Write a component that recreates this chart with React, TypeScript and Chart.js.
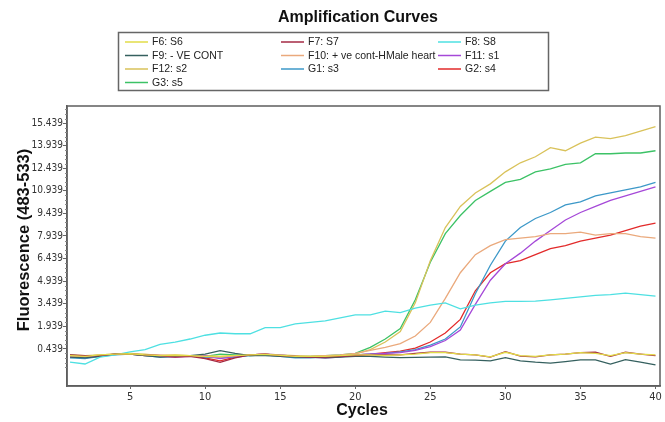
import React, { useEffect, useRef } from 'react';
import { Chart, registerables } from 'chart.js';

Chart.register(...registerables);

const TITLE = 'Amplification Curves';
const X_TITLE = 'Cycles';
const Y_TITLE = 'Fluorescence (483-533)';

const cycles = [1, 2, 3, 4, 5, 6, 7, 8, 9, 10, 11, 12, 13, 14, 15, 16, 17, 18, 19, 20, 21, 22, 23, 24, 25, 26, 27, 28, 29, 30, 31, 32, 33, 34, 35, 36, 37, 38, 39, 40];

const xTicks = [5, 10, 15, 20, 25, 30, 35, 40];
const yTicks = [0.439, 1.939, 3.439, 4.939, 6.439, 7.939, 9.439, 10.939, 12.439, 13.939, 15.439];

const seriesNames = [
  'F6: S6', 'F7: S7', 'F8: S8',
  'F9: - VE CONT', 'F10: + ve cont-HMale heart', 'F11: s1',
  'F12: s2', 'G1: s3', 'G2: s4',
  'G3: s5',
];

const seriesColors = [
  '#e2dc48', '#a42a44', '#4ee0e2',
  '#35605f', '#eaa97c', '#a548d8',
  '#d9c25a', '#3c98c8', '#e22a2a',
  '#3cc266',
];

const f6 = [0.0, -0.05, 0.05, 0.1, 0.12, 0.05, 0.0, 0.02, 0.0, -0.05, -0.05, 0.0, 0.05, 0.08, 0.02, -0.05, -0.05, -0.05, 0.0, 0.05, 0.05, 0.0, 0.05, 0.1, 0.2, 0.2, 0.1, 0.05, -0.08, 0.22, 0.0, -0.05, 0.05, 0.1, 0.2, 0.15, 0.0, 0.2, 0.1, 0.05];
const f7 = [0.05, 0.0, 0.0, 0.1, 0.1, 0.05, 0.0, -0.1, -0.05, -0.2, -0.45, -0.15, 0.05, 0.1, 0.0, -0.05, -0.1, -0.1, -0.05, 0.0, 0.05, 0.05, 0.05, 0.15, 0.22, 0.22, 0.1, 0.05, -0.1, 0.26, -0.03, -0.08, 0.05, 0.1, 0.2, 0.22, -0.05, 0.22, 0.1, 0.0];
const f8 = [-0.43, -0.56, -0.1, 0.05, 0.25, 0.4, 0.75, 0.9, 1.1, 1.35, 1.5, 1.45, 1.45, 1.85, 1.85, 2.1, 2.2, 2.3, 2.5, 2.7, 2.7, 2.95, 2.85, 3.15, 3.35, 3.5, 3.1, 3.35, 3.5, 3.6, 3.6, 3.62, 3.7, 3.8, 3.9, 4.0, 4.05, 4.15, 4.05, 3.95];
const f9 = [-0.1, -0.15, -0.05, 0.1, 0.1, 0.0, -0.1, -0.05, 0.0, 0.1, 0.33, 0.15, 0.0, 0.0, -0.05, -0.1, -0.1, -0.15, -0.1, -0.05, -0.05, -0.1, -0.14, -0.12, -0.1, -0.08, -0.29, -0.3, -0.35, -0.14, -0.35, -0.44, -0.5, -0.4, -0.29, -0.29, -0.56, -0.27, -0.44, -0.62];
const f10 = [0.0, -0.05, 0.05, 0.1, 0.1, 0.05, 0.05, 0.0, -0.05, -0.05, -0.1, 0.0, 0.05, 0.1, 0.0, -0.05, -0.05, 0.0, 0.05, 0.15, 0.35, 0.55, 0.8, 1.3, 2.2, 3.8, 5.5, 6.7, 7.3, 7.7, 7.8, 7.9, 8.1, 8.1, 8.2, 8.0, 8.1, 8.1, 7.9, 7.8];
const f11 = [-0.1, -0.1, 0.0, 0.1, 0.1, 0.05, -0.05, -0.1, -0.05, 0.0, -0.2, -0.05, 0.05, 0.1, 0.05, -0.05, -0.1, -0.15, -0.1, 0.05, 0.1, 0.15, 0.2, 0.35, 0.6, 1.0, 1.7, 3.4, 5.0, 6.1, 6.8, 7.6, 8.3, 9.0, 9.5, 9.9, 10.3, 10.6, 10.9, 11.2];
const f12 = [0.05, 0.0, 0.05, 0.1, 0.15, 0.1, 0.0, 0.05, 0.0, 0.0, -0.05, 0.0, 0.05, 0.1, 0.05, 0.0, -0.05, 0.0, 0.0, 0.1, 0.4, 0.9, 1.6, 3.5, 6.3, 8.5, 9.9, 10.8, 11.4, 12.2, 12.8, 13.2, 13.8, 13.6, 14.1, 14.5, 14.4, 14.6, 14.9, 15.2];
const g1 = [-0.15, -0.2, -0.05, 0.05, 0.1, 0.0, -0.1, -0.05, -0.05, -0.1, -0.15, -0.1, 0.0, 0.05, -0.05, -0.15, -0.15, -0.1, -0.05, 0.05, 0.1, 0.15, 0.25, 0.4, 0.7, 1.1, 1.9, 4.1, 6.0, 7.6, 8.5, 9.1, 9.5, 10.0, 10.2, 10.6, 10.8, 11.0, 11.2, 11.5];
const g2 = [0.0, -0.05, 0.0, 0.1, 0.1, 0.0, -0.05, -0.05, 0.0, -0.15, -0.35, -0.1, 0.05, 0.1, 0.0, -0.05, -0.1, -0.1, -0.05, 0.05, 0.1, 0.2, 0.3, 0.5, 0.9, 1.5, 2.4, 4.3, 5.5, 6.1, 6.3, 6.7, 7.1, 7.3, 7.6, 7.8, 8.0, 8.3, 8.6, 8.8];
const g3 = [0.05, -0.05, 0.0, 0.1, 0.1, 0.05, 0.0, -0.05, -0.05, -0.05, 0.1, 0.05, 0.0, 0.05, 0.0, -0.05, -0.05, 0.0, 0.05, 0.15, 0.55, 1.1, 1.8, 3.7, 6.2, 8.1, 9.3, 10.3, 10.9, 11.5, 11.7, 12.2, 12.4, 12.7, 12.8, 13.4, 13.4, 13.45, 13.45, 13.6];

const seriesValues = [f6, f7, f8, f9, f10, f11, f12, g1, g2, g3];

const FONT = '"Liberation Sans", Arial, sans-serif';
const NARROW = '"Liberation Sans Narrow", "Arial Narrow", "DejaVu Sans Condensed", "Liberation Sans", sans-serif';

const decorPlugin = {
  id: 'decor',
  afterDraw(chart: any) {
    const ctx = chart.ctx as CanvasRenderingContext2D;
    const a = chart.chartArea;
    const ys = chart.scales.y;
    ctx.save();
    // frame
    ctx.strokeStyle = '#5e5e5e';
    ctx.lineWidth = 1.5;
    ctx.strokeRect(a.left, a.top, a.right - a.left, a.bottom - a.top);
    // minor ticks on y axis
    ctx.lineWidth = 1;
    ctx.strokeStyle = '#888';
    const minor: number[] = [];
    yTicks.forEach((t) => { for (let k = 1; k < 5; k++) minor.push(t - k * 0.3); });
    for (let k = 1; k < 5; k++) minor.push(yTicks[yTicks.length - 1] + k * 0.3);
    minor.forEach((v) => {
      const py = Math.round(ys.getPixelForValue(v)) + 0.5;
      if (py > a.bottom || py < a.top) return;
      ctx.beginPath();
      ctx.moveTo(a.left - 2, py);
      ctx.lineTo(a.left, py);
      ctx.stroke();
    });
    // title
    ctx.fillStyle = '#111';
    ctx.textAlign = 'center';
    ctx.textBaseline = 'middle';
    ctx.font = 'bold 16px ' + FONT;
    ctx.fillText(TITLE, 358, 18);
    // axis titles
    ctx.fillText(X_TITLE, 362, 411);
    ctx.save();
    ctx.translate(24, 240);
    ctx.rotate(-Math.PI / 2);
    ctx.font = 'bold 16.5px ' + FONT;
    ctx.fillText(Y_TITLE, 0, 0);
    ctx.restore();
    // legend box
    ctx.strokeStyle = '#666';
    ctx.lineWidth = 1.5;
    ctx.strokeRect(118.5, 32.5, 430, 58);
    const colX = [125, 281, 438];
    const rowY = [42, 55.5, 69, 82.5];
    ctx.font = '10.5px ' + FONT;
    ctx.textAlign = 'left';
    ctx.textBaseline = 'middle';
    chart.data.datasets.forEach((ds: any, i: number) => {
      const cx = colX[i % 3];
      const cy = rowY[Math.floor(i / 3)];
      ctx.strokeStyle = ds.borderColor;
      ctx.lineWidth = 1.5;
      ctx.beginPath();
      ctx.moveTo(cx, cy);
      ctx.lineTo(cx + 23, cy);
      ctx.stroke();
      ctx.fillStyle = '#222';
      ctx.fillText(ds.label, cx + 27, cy + 0.5);
    });
    ctx.restore();
  },
};

export default function App() {
  const ref = useRef<HTMLCanvasElement | null>(null);
  useEffect(() => {
    document.body.style.margin = '0';
    if (!ref.current) return;
    const chart = new Chart(ref.current, {
      type: 'line',
      data: {
        datasets: seriesValues.map((vals, i) => ({
          label: seriesNames[i],
          data: vals.map((v, j) => ({ x: cycles[j], y: v })),
          borderColor: seriesColors[i],
          backgroundColor: seriesColors[i],
          borderWidth: 1.3,
          pointRadius: 0,
          tension: 0,
          fill: false,
        })),
      },
      options: {
        responsive: false,
        animation: false,
        events: [],
        layout: { padding: { top: 106, right: 5, left: 0, bottom: 0 } },
        plugins: {
          legend: { display: false },
          title: { display: false },
          tooltip: { enabled: false },
        },
        scales: {
          x: {
            type: 'linear',
            min: 0.8,
            max: 40.3,
            afterFit: (s: any) => { s.height = 36; },
            afterBuildTicks: (s: any) => { s.ticks = xTicks.map((v) => ({ value: v })); },
            grid: { drawOnChartArea: false, drawTicks: true, tickLength: 3, color: '#666' },
            border: { display: true, color: '#5e5e5e', width: 1.5 },
            ticks: {
              color: '#333',
              font: { size: 11, family: NARROW },
              padding: 2,
              maxRotation: 0,
              autoSkip: false,
              callback: (v: any) => String(v),
            },
          },
          y: {
            type: 'linear',
            min: -2.02,
            max: 16.57,
            afterFit: (s: any) => { s.width = 67; },
            afterBuildTicks: (s: any) => { s.ticks = yTicks.map((v) => ({ value: v })); },
            grid: { drawOnChartArea: false, drawTicks: true, tickLength: 4, color: '#666' },
            border: { display: true, color: '#5e5e5e', width: 1.5 },
            ticks: {
              color: '#333',
              font: { size: 10, family: NARROW },
              padding: 0,
              autoSkip: false,
              callback: (v: any) => Number(v).toFixed(3),
            },
          },
        },
      },
      plugins: [decorPlugin],
    });
    return () => chart.destroy();
  }, []);
  return (
    <div style={{ width: 665, height: 422, background: '#fff' }}>
      <canvas ref={ref} width={665} height={422} />
    </div>
  );
}
